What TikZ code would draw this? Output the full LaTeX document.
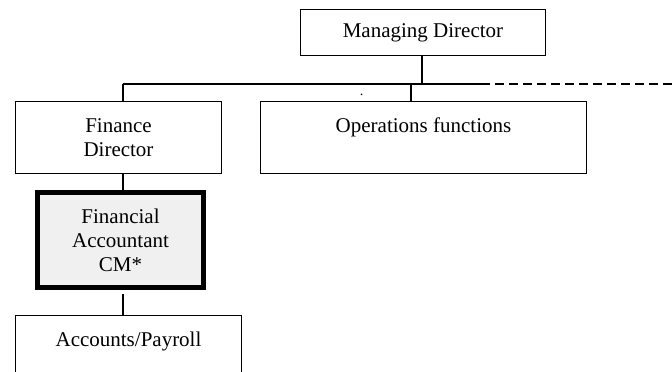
\documentclass[tikz,border=0pt]{standalone}
\usepackage{fontspec}
\setmainfont{Liberation Serif}
\begin{document}
\begin{tikzpicture}[x=1pt,y=-1pt,
  box/.style={draw=black, line width=1.1pt, rectangle, inner sep=0pt, align=center,
    font=\fontsize{21}{24}\selectfont},
  keybox/.style={box, line width=5pt, fill=black!6},
  link/.style={draw=black, line width=1.1pt},
  dashlink/.style={link, dash pattern=on 9pt off 5pt},
]
\useasboundingbox (0,0) rectangle (672,372);
\clip (0,0) rectangle (672,372);

\node[box, minimum width=245pt, minimum height=46pt] (md) at (423,32.5) {Managing Director};
\node[box, minimum width=206pt, minimum height=72pt] (fd) at (118.5,137.5) {Finance\\Director};
\node[box, minimum width=326pt, minimum height=72pt] (ops) at (423.5,137.5) {Operations functions\\\mbox{}};
\node[keybox, minimum width=166pt, minimum height=95pt] (fa) at (120.5,240) {Financial\\Accountant\\CM*};
\node[box, minimum width=226pt, minimum height=72pt] (ap) at (128.5,351.5) {Accounts/Payroll\\\mbox{}};
\node[inner sep=0pt, font=\fontsize{14}{14}\selectfont] (dot) at (361.5,95) {.};

\coordinate (busM) at (422,84);
\coordinate (busL) at (123,84);
\coordinate (busO) at (411,84);
\coordinate (busR) at (481,84);
\coordinate (busE) at (672,84);
\coordinate (gap) at (123,294);

\draw[link] (md.south -| busM) -- (busM);
\draw[link] (busL) -- (busR);
\draw[dashlink] (busR) -- (busE);
\draw[link] (busL) -- (busL |- fd.north);
\draw[link] (busO) -- (busO |- ops.north);
\draw[link] (fd.south -| busL) -- (fa.north -| busL);
\draw[link] (gap) -- (gap |- ap.north);
\end{tikzpicture}
\end{document}
